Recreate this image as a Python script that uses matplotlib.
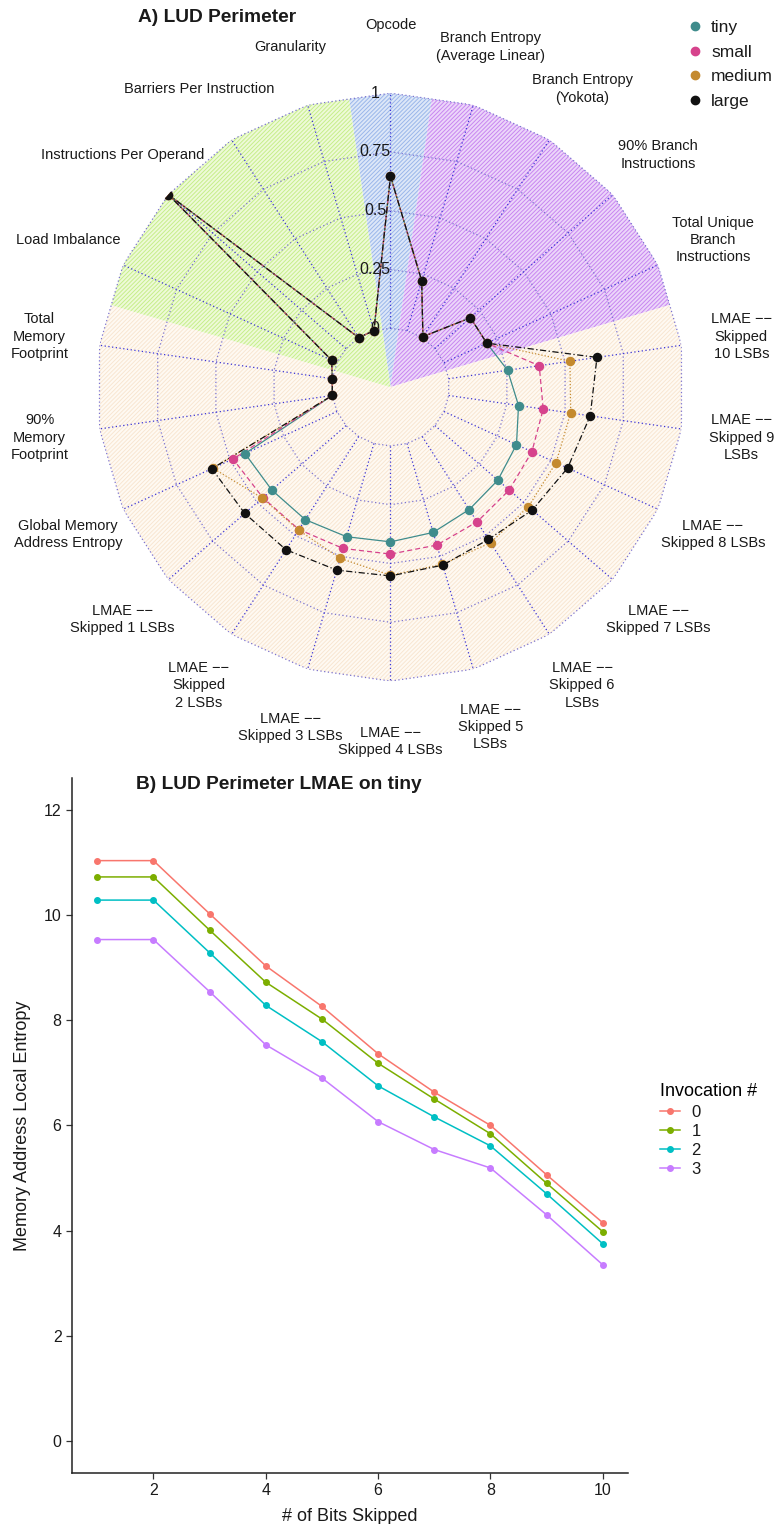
import numpy as np
import matplotlib
matplotlib.use('Agg')
import matplotlib.pyplot as plt
from matplotlib.lines import Line2D

plt.rcParams['font.family'] = ['Liberation Sans', 'DejaVu Sans']
plt.rcParams['hatch.linewidth'] = 0.7

# ---- panel A: radar of normalised metrics ----
axis_labels = [
    "Opcode",
    "Branch Entropy\n(Average Linear)",
    "Branch Entropy\n(Yokota)",
    "90% Branch\nInstructions",
    "Total Unique\nBranch\nInstructions",
    "LMAE \u2212\u2212\nSkipped\n10 LSBs",
    "LMAE \u2212\u2212\nSkipped 9\nLSBs",
    "LMAE \u2212\u2212\nSkipped 8 LSBs",
    "LMAE \u2212\u2212\nSkipped 7 LSBs",
    "LMAE \u2212\u2212\nSkipped 6\nLSBs",
    "LMAE \u2212\u2212\nSkipped 5\nLSBs",
    "LMAE \u2212\u2212\nSkipped 4 LSBs",
    "LMAE \u2212\u2212\nSkipped 3 LSBs",
    "LMAE \u2212\u2212\nSkipped\n2 LSBs",
    "LMAE \u2212\u2212\nSkipped 1 LSBs",
    "Global Memory\nAddress Entropy",
    "90%\nMemory\nFootprint",
    "Total\nMemory\nFootprint",
    "Load Imbalance",
    "Instructions Per Operand",
    "Barriers Per Instruction",
    "Granularity",
]

sizes = ["tiny", "small", "medium", "large"]

# metrics that do not change with problem size
head_vals = [0.647, 0.221, 0.005, 0.20, 0.20]            # opcode + branch metrics
tail_vals = [0.0, 0.0, 0.025, 1.0, 0.0, 0.0]             # memory footprint + parallelism

# LMAE skipped 10 .. 1 LSBs, then global memory address entropy
mem_tiny = [0.253, 0.300, 0.339, 0.354, 0.369, 0.394, 0.408, 0.413, 0.420, 0.418, 0.430]
mem_small = [0.389, 0.406, 0.411, 0.418, 0.431, 0.450, 0.460, 0.465, 0.470, 0.468, 0.486]
mem_medium = [0.521, 0.524, 0.524, 0.526, 0.537, 0.535, 0.550, 0.509, 0.473, 0.471, 0.580]
mem_large = [0.637, 0.608, 0.578, 0.548, 0.520, 0.539, 0.553, 0.561, 0.572, 0.570, 0.585]

size_colors = ["#3f8c8c", "#d6438c", "#c48a2f", "#111111"]
size_styles = ["-", (0, (4, 2.5)), (0, (1, 1.6)), (0, (5, 2, 1, 2))]

# ---- panel B: LMAE per invocation on tiny ----
bits = [1, 2, 3, 4, 5, 6, 7, 8, 9, 10]
invocations = ["0", "1", "2", "3"]
inv0 = [11.03, 11.03, 10.02, 9.03, 8.26, 7.36, 6.63, 6.00, 5.06, 4.15]
inv1 = [10.72, 10.72, 9.71, 8.72, 8.02, 7.18, 6.50, 5.84, 4.90, 3.98]
inv2 = [10.28, 10.28, 9.28, 8.28, 7.59, 6.75, 6.16, 5.61, 4.70, 3.75]
inv3 = [9.53, 9.53, 8.54, 7.53, 6.90, 6.07, 5.54, 5.19, 4.30, 3.35]
inv_colors = ["#F8766D", "#7CAE00", "#00BFC4", "#C77CFF"]

text_col = "#1a1a1a"

fig = plt.figure(figsize=(7.75, 15.24), dpi=100)

ax = fig.add_axes([0.1245, 0.5531, 0.7587, 0.3858], projection="polar")
ax.set_theta_zero_location("N")
ax.set_theta_direction(-1)
ax.set_ylim(-0.25, 1)
ax.grid(False)
ax.set_xticks([])
ax.set_yticks([])
ax.spines["polar"].set_visible(False)
ax.patch.set_visible(False)

n = len(axis_labels)
theta = np.arange(n) * 2 * np.pi / n
half = np.pi / n
r_edge = -0.25 + 1.25 * np.cos(half)

# shaded metric groups: (first axis, last axis, face, hatch colour)
groups = [
    (0, 0, "#dde7f8", "#9ab6ea"),
    (1, 4, "#ecd6fa", "#c886f0"),
    (5, 17, "#fffaf3", "#f8e6d2"),
    (18, 21, "#eefad8", "#c6ee8a"),
]
for start, stop, face, hatch_col in groups:
    th = [0.0, theta[start] - half] + list(theta[start:stop + 1]) + [theta[stop] + half]
    rr = [-0.25, r_edge] + [1.0] * (stop - start + 1) + [r_edge]
    ax.fill(th, rr, facecolor=face, edgecolor=hatch_col, hatch="////////",
            linewidth=0, zorder=0)

# web grid
closed = np.append(theta, theta[0])
for lev in [0, 0.25, 0.5, 0.75, 1.0]:
    ax.plot(closed, [lev] * (n + 1), ls=(0, (1, 2)), color="#7a72d0", lw=0.9, zorder=1)
for t in theta:
    ax.plot([t, t], [0, 1], ls=(0, (1, 2)), color="#3b34d6", lw=0.9, zorder=1)

for lev, lab in zip([0, 0.25, 0.5, 0.75, 1.0], ["0", "0.25", "0.5", "0.75", "1"]):
    ax.annotate(lab, xy=(0, lev), xytext=(-11, 0), textcoords="offset points",
                ha="center", va="center", fontsize=11.5, color=text_col, zorder=2)

series = [mem_tiny, mem_small, mem_medium, mem_large]
for name, mem, col, ls in zip(sizes, series, size_colors, size_styles):
    vals = head_vals + mem + tail_vals
    vals = vals + vals[:1]
    ax.plot(closed, vals, color=col, ls=ls, lw=0.9, zorder=3)
    ax.plot(theta, vals[:-1], ls="none", marker="o", ms=5.8, color=col, zorder=4)

for k, (t, lab) in enumerate(zip(theta, axis_labels)):
    r_lab = 1.29 if k == 0 else 1.257
    ax.text(t, r_lab, lab, ha="center", va="center", fontsize=10.5,
            color=text_col, linespacing=1.3)

handles = [Line2D([], [], ls="none", marker="o", ms=6, color=c) for c in size_colors]
fig.legend(handles, sizes, loc="upper left", bbox_to_anchor=(0.876, 0.9915),
           frameon=False, fontsize=12.5, handlelength=1.0, handletextpad=0.45,
           labelspacing=0.55, borderaxespad=0, labelcolor=text_col)

fig.text(138 / 775, 1 - 17 / 1524, "A) LUD Perimeter", ha="left", va="center",
         fontsize=13.8, fontweight="bold", color=text_col)

# ---- panel B ----
bx = fig.add_axes([0.0929, 0.0337, 0.7174, 0.4558])
for vals, col, lab in zip([inv0, inv1, inv2, inv3], inv_colors, invocations):
    bx.plot(bits, vals, color=col, lw=1.1, marker="o", ms=4, label=lab)

bx.set_xlim(0.55, 10.45)
bx.set_ylim(-0.6, 12.6)
bx.set_xticks([2, 4, 6, 8, 10])
bx.set_yticks([0, 2, 4, 6, 8, 10, 12])
for side in ["top", "right"]:
    bx.spines[side].set_visible(False)
for side in ["left", "bottom"]:
    bx.spines[side].set_linewidth(1.1)
    bx.spines[side].set_color("#222222")
bx.tick_params(direction="out", length=4, width=0.9, color="#333333",
               labelsize=11.5, labelcolor=text_col)
bx.set_xlabel("# of Bits Skipped", fontsize=13, color=text_col, labelpad=7)
bx.set_ylabel("Memory Address Local Entropy", fontsize=13, color=text_col, labelpad=9)

leg = bx.legend(title="Invocation #", loc="center left", bbox_to_anchor=(1.03, 0.493),
                frameon=False, fontsize=12, title_fontsize=13, handlelength=1.2,
                handletextpad=0.7, labelspacing=0.25, alignment="left",
                labelcolor=text_col)

fig.text(136 / 775, 1 - 784 / 1524, "B) LUD Perimeter LMAE on tiny", ha="left",
         va="center", fontsize=13.8, fontweight="bold", color=text_col)

fig.savefig("out.png", dpi=100)
